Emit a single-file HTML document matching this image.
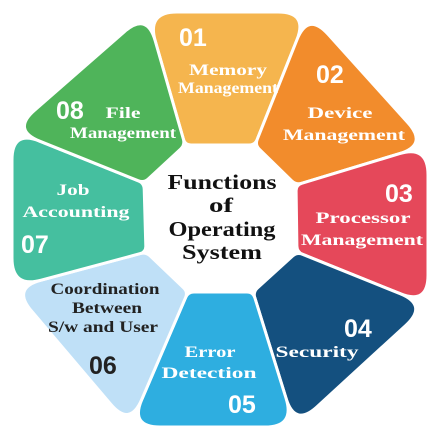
<!DOCTYPE html>
<html><head><meta charset="utf-8"><style>
html,body{margin:0;padding:0;background:#fff;}
svg{display:block;}
.l{font-family:"Liberation Serif",serif;font-weight:bold;fill:#fff;font-size:16px;}
.d{fill:#222;}
.n{font-family:"Liberation Sans",sans-serif;font-weight:bold;fill:#fff;font-size:25px;}
.c{font-family:"Liberation Serif",serif;font-weight:bold;fill:#111;font-size:21px;}
</style></head><body>
<svg id="s" width="440" height="440" viewBox="0 0 440 440" xmlns="http://www.w3.org/2000/svg">
<g id="segs"></g>
<text class="n" x="179" y="46">01</text>
<text class="l" x="228" y="75" text-anchor="middle" textLength="78" lengthAdjust="spacingAndGlyphs">Memory</text>
<text class="l" x="228" y="93" text-anchor="middle" textLength="100" lengthAdjust="spacingAndGlyphs" font-size="14">Management</text>
<text class="n" x="316" y="83">02</text>
<text class="l" x="340" y="118" text-anchor="middle" textLength="65" lengthAdjust="spacingAndGlyphs">Device</text>
<text class="l" x="344" y="140" text-anchor="middle" textLength="122" lengthAdjust="spacingAndGlyphs">Management</text>
<text class="n" x="385" y="202">03</text>
<text class="l" x="363" y="223" text-anchor="middle" textLength="95" lengthAdjust="spacingAndGlyphs">Processor</text>
<text class="l" x="362" y="245" text-anchor="middle" textLength="122" lengthAdjust="spacingAndGlyphs">Management</text>
<text class="n" x="344" y="337">04</text>
<text class="l" x="317" y="357" text-anchor="middle" textLength="83" lengthAdjust="spacingAndGlyphs">Security</text>
<text class="l" x="210" y="357" text-anchor="middle" textLength="51" lengthAdjust="spacingAndGlyphs">Error</text>
<text class="l" x="209" y="378" text-anchor="middle" textLength="95" lengthAdjust="spacingAndGlyphs">Detection</text>
<text class="n" x="228" y="413">05</text>
<text class="l d" x="105" y="294" text-anchor="middle" textLength="109" lengthAdjust="spacingAndGlyphs">Coordination</text>
<text class="l d" x="107" y="313" text-anchor="middle" textLength="70" lengthAdjust="spacingAndGlyphs">Between</text>
<text class="l d" x="103" y="332" text-anchor="middle" textLength="110" lengthAdjust="spacingAndGlyphs">S/w and User</text>
<text class="n" x="89" y="374" style="fill:#222">06</text>
<text class="l" x="73" y="195" text-anchor="middle" textLength="33" lengthAdjust="spacingAndGlyphs">Job</text>
<text class="l" x="76" y="217" text-anchor="middle" textLength="107" lengthAdjust="spacingAndGlyphs">Accounting</text>
<text class="n" x="21" y="253">07</text>
<text class="n" x="56" y="119">08</text>
<text class="l" x="123" y="118" text-anchor="middle" textLength="35" lengthAdjust="spacingAndGlyphs">File</text>
<text class="l" x="123" y="138" text-anchor="middle" textLength="106" lengthAdjust="spacingAndGlyphs">Management</text>
<text class="c" x="222" y="189" text-anchor="middle" textLength="109" lengthAdjust="spacingAndGlyphs">Functions</text>
<text class="c" x="221" y="212" text-anchor="middle" textLength="24" lengthAdjust="spacingAndGlyphs">of</text>
<text class="c" x="222" y="236" text-anchor="middle" textLength="107" lengthAdjust="spacingAndGlyphs">Operating</text>
<text class="c" x="222" y="259" text-anchor="middle" textLength="80" lengthAdjust="spacingAndGlyphs">System</text>
</svg>
<script>
(function(){
var O=[[147,12],[308,12],[428,145],[428,305],[295,427],[130,427],[12,288],[12,130]];
var I=[[185,145],[255,145],[296,185],[297,252],[253,292],[188,292],[146,252],[144,183]];
var C=["#f5b54e","#f28c2c","#e5485a","#14507f","#2eaee0","#bfe0f7","#45bf9f","#4fb45a"];
function pt(p,q,r){var dx=q[0]-p[0],dy=q[1]-p[1],l=Math.sqrt(dx*dx+dy*dy);return [p[0]+dx/l*r,p[1]+dy/l*r];}
var g=document.getElementById("segs"),h="";
for(var i=0;i<8;i++){
 var a=O[i],b=O[(i+1)%8],bi=I[(i+1)%8],ai=I[i];
 var pts=[ai,a,b,bi];var R=[6,30,30,6];
 var d="";
 for(var k=0;k<4;k++){
  var P=pts[k],pr=pts[(k+3)%4],nx=pts[(k+1)%4];
  var s=pt(P,pr,R[k]),e=pt(P,nx,R[k]);
  d+=(k==0?"M":"L")+s[0].toFixed(1)+","+s[1].toFixed(1)+"Q"+P[0]+","+P[1]+" "+e[0].toFixed(1)+","+e[1].toFixed(1);
 }
 d+="Z";
 h+='<path d="'+d+'" fill="'+C[i]+'" stroke="#fff" stroke-width="3" stroke-linejoin="round"/>';
}
g.innerHTML=h;
})();
</script>
</body></html>
